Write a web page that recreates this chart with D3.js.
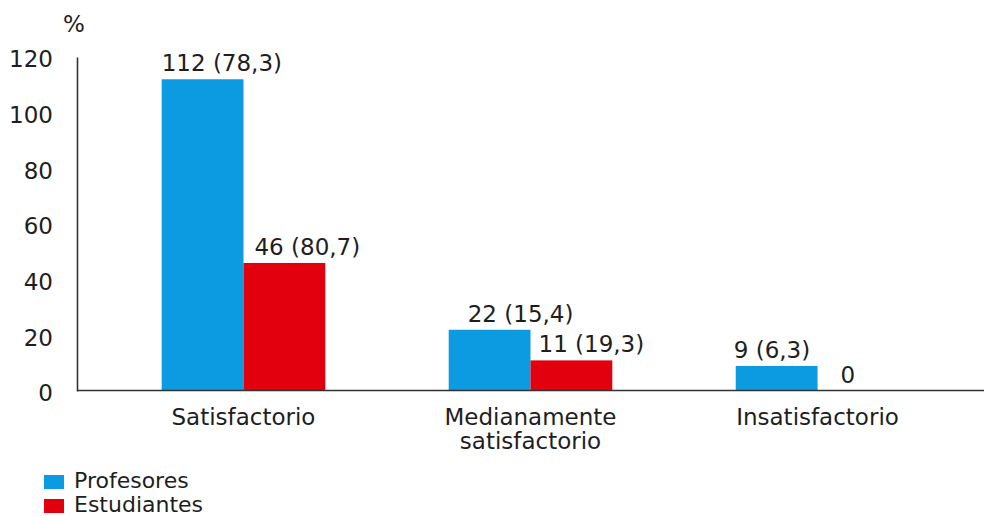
<!DOCTYPE html>
<html>
<head>
<meta charset="utf-8">
<script src="https://cdn.jsdelivr.net/npm/d3@7"></script>
<style>
  html, body { margin: 0; padding: 0; background: #fff; }
  svg { display: block; }
  text { font-family: Verdana, "DejaVu Sans", sans-serif; fill: #1e1e1e; }
</style>
</head>
<body>
<svg id="chart" width="984" height="516"></svg>
<script>
// Evaluation levels and the two groups surveyed
const categories = ["Satisfactorio", "Medianamente satisfactorio", "Insatisfactorio"];
const seriesNames = ["Profesores", "Estudiantes"];
const profesores = [112, 22, 9];
const profesoresPct = ["78,3", "15,4", "6,3"];
const estudiantes = [46, 11, 0];
const estudiantesPct = ["80,7", "19,3", null];
const yTicks = [0, 20, 40, 60, 80, 100, 120];

const colors = ["#0c9be0", "#e2000f"];

const svg = d3.select("#chart");
const fontSize = 23;

const x = d3.scaleBand()
  .domain(categories)
  .range([77, 984])
  .paddingInner(0.43)
  .paddingOuter(0.295);

const xSub = d3.scaleBand()
  .domain(seriesNames)
  .range([0, x.bandwidth()]);

const y = d3.scaleLinear()
  .domain([0, 120])
  .range([391, 57]);

const rows = categories.map((c, i) => ({
  category: c,
  values: [
    { series: "Profesores", value: profesores[i], pct: profesoresPct[i] },
    { series: "Estudiantes", value: estudiantes[i], pct: estudiantesPct[i] }
  ]
}));

// Bars
const groups = svg.append("g").selectAll("g")
  .data(rows)
  .join("g")
  .attr("transform", d => `translate(${x(d.category)},0)`);

groups.selectAll("rect")
  .data(d => d.values)
  .join("rect")
  .attr("x", d => xSub(d.series))
  .attr("y", d => y(d.value))
  .attr("width", xSub.bandwidth())
  .attr("height", d => y(0) - y(d.value))
  .attr("fill", (d, j) => colors[j]);

// Value labels: count followed by percentage, nudged from each bar's left edge
const nudges = [[0, 11], [19, 8], [-2, 23]];
groups.each(function(d, i) {
  d3.select(this).selectAll("text.value")
    .data(d.values)
    .join("text")
    .attr("class", "value")
    .attr("x", (v, j) => xSub(v.series) + nudges[i][j])
    .attr("y", v => y(v.value) - 8)
    .attr("font-size", fontSize)
    .attr("text-anchor", "start")
    .text(v => v.pct ? `${v.value} (${v.pct})` : `${v.value}`);
});

// Y axis
const yAxis = svg.append("g")
  .attr("transform", "translate(77,0)")
  .call(d3.axisLeft(y).tickValues(yTicks).tickSize(0).tickSizeOuter(0).tickPadding(24));
yAxis.select(".domain").attr("stroke", "#333").attr("stroke-width", 1.6);
yAxis.selectAll(".tick text")
  .attr("font-size", fontSize)
  .attr("font-family", null)
  .attr("dy", "0.42em");

// X axis (baseline and category names)
const xAxis = svg.append("g")
  .attr("transform", `translate(0,${y(0) - 1})`)
  .call(d3.axisBottom(x).tickSize(0).tickSizeOuter(0).tickFormat(() => ""));
xAxis.select(".domain").attr("stroke", "#333").attr("stroke-width", 1.6);

xAxis.selectAll(".tick").each(function(c) {
  const words = c.length > 16 ? c.split(" ") : [c];
  const t = d3.select(this).select("text")
    .attr("font-size", fontSize)
    .attr("font-family", null)
    .attr("y", 0)
    .attr("dy", null);
  t.selectAll("tspan")
    .data(words)
    .join("tspan")
    .attr("x", 0)
    .attr("y", (w, k) => 35 + k * 24)
    .text(w => w);
});

// Axis unit
svg.append("text")
  .attr("x", 63)
  .attr("y", 32)
  .attr("font-size", 23)
  .text("%");

// Legend
const legend = svg.append("g").selectAll("g")
  .data(seriesNames)
  .join("g")
  .attr("transform", (d, i) => `translate(44,${475 + i * 24})`);
legend.append("rect")
  .attr("width", 20)
  .attr("height", 14)
  .attr("fill", (d, i) => colors[i]);
legend.append("text")
  .attr("x", 30)
  .attr("y", 13)
  .attr("font-size", 22)
  .text(d => d);
</script>
</body>
</html>
